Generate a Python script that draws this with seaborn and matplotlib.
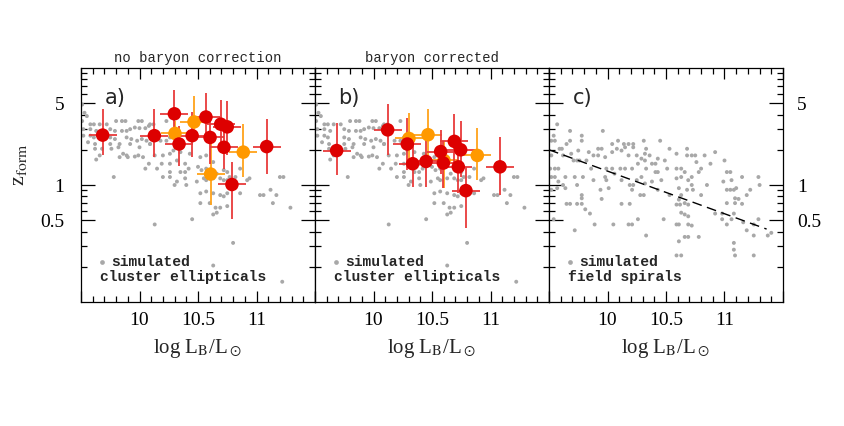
import numpy as np
import pandas as pd
import matplotlib
matplotlib.use("Agg")
import matplotlib.pyplot as plt
import seaborn as sns
from matplotlib.ticker import FixedLocator, NullFormatter, FixedFormatter, MultipleLocator

# ---------------- data ----------------
# simulated cluster ellipticals (panels a, b)
ell_x = [9.51, 9.53, 9.55, 9.51, 9.58, 9.61, 9.66, 9.72, 9.80, 9.85, 9.88, 9.99, 10.02, 10.09, 10.12, 10.23,
         9.52, 9.58, 9.63, 9.75, 9.79, 9.85, 9.89, 9.92, 9.96, 10.00, 10.05, 10.08,
         9.52, 9.58, 9.61, 9.75, 9.79, 9.89, 9.93, 9.98, 10.02, 10.06, 10.09, 10.18, 10.23,
         9.56, 9.62, 9.75, 9.83, 9.92, 10.00, 10.09, 10.26, 10.29,
         9.62, 9.68, 9.76, 9.82, 9.86, 9.89, 9.96, 10.03, 10.13, 10.20, 10.26, 10.35, 10.43,
         9.63, 9.66, 9.83, 9.90, 9.99, 10.08, 10.19, 10.26, 10.32, 10.39, 10.42, 10.52, 10.57, 10.63,
         9.78, 10.05, 10.15, 10.26, 10.35, 10.39, 10.50, 10.53, 10.57, 10.66, 10.72, 10.75, 10.86,
         10.20, 10.26, 10.30, 10.32, 10.39, 10.40, 10.49, 10.55, 10.57, 10.63, 10.69, 10.72, 10.75, 10.77, 10.82, 10.92, 10.94,
         10.52, 10.57, 10.63, 10.69, 10.72, 10.75, 10.86, 11.03, 11.06, 11.12, 11.17, 11.20, 11.23,
         10.52, 10.60, 10.65, 10.66, 10.63, 10.69, 10.75, 11.14,
         10.45, 10.13, 11.29, 10.80, 10.63, 11.22]
ell_z = [4.87, 4.14, 3.88, 3.52, 3.30, 3.30, 3.30, 3.30, 3.52, 3.52, 3.52, 3.52, 3.52, 3.30, 3.30, 3.52,
         3.00, 3.00, 2.90, 3.00, 2.90, 2.90, 2.90, 3.00, 3.10, 3.06, 3.06, 3.20,
         2.64, 2.64, 2.55, 2.55, 2.47, 2.55, 2.47, 2.39, 2.47, 2.39, 2.24, 2.39, 2.39,
         2.32, 2.24, 2.24, 2.24, 2.24, 2.10, 2.24, 2.55, 1.97,
         2.04, 2.04, 2.04, 2.10, 1.85, 1.79, 1.75, 1.73, 1.79, 1.79, 1.85, 1.91, 1.85,
         1.65, 1.79, 1.73, 1.73, 1.79, 1.52, 1.52, 1.52, 1.62, 1.52, 1.38, 1.73, 1.79, 1.57,
         1.17, 1.38, 1.38, 1.29, 1.29, 1.29, 1.43, 1.34, 1.38, 1.25, 1.34, 1.29, 1.38,
         1.17, 1.17, 1.00, 1.07, 1.14, 1.00, 1.07, 1.14, 1.10, 1.14, 1.14, 1.10, 1.10, 1.17, 1.17, 1.10, 1.14,
         0.85, 0.88, 0.85, 0.82, 0.80, 0.85, 0.85, 0.82, 0.82, 0.91, 0.82, 1.17, 1.17,
         0.70, 0.70, 0.64, 0.58, 0.56, 0.64, 0.66, 0.70,
         0.51, 0.46, 0.64, 0.32, 0.205, 0.149]

# simulated field spirals (panel c)
sp_x = [9.57, 9.54, 9.52, 9.55,
        9.59, 9.61, 9.65, 9.68, 9.68, 9.78, 9.78, 9.96, 9.92, 9.95, 10.04, 10.09, 10.14, 10.18, 10.22, 10.15, 10.22, 10.31, 10.45, 10.33, 10.53, 10.68,
        9.52, 9.62, 9.69, 9.75, 9.84, 9.88, 9.92, 9.98, 10.04, 10.08, 10.12, 10.18, 10.25, 10.29, 10.32, 10.36, 10.32, 10.38, 10.41, 10.43, 10.49, 10.59, 10.68, 10.72, 10.75, 10.83, 10.92, 10.88,
        9.51, 9.55, 9.58, 9.71, 9.74, 9.76, 9.82, 9.86, 9.99, 10.04, 10.11, 10.15, 10.21, 10.26, 10.33, 10.41, 10.43, 10.51, 10.59, 10.63, 10.66, 10.76, 10.78, 10.80, 11.00, 11.02, 11.05,
        9.52, 9.55, 9.58, 9.64, 9.72, 9.79, 9.88, 9.98, 9.99, 10.06, 10.12, 10.19, 10.22, 10.25, 10.29, 10.32, 10.38, 10.46, 10.59, 10.63, 10.69, 10.72, 10.72, 10.85, 10.99, 11.06, 11.15, 11.29,
        9.52, 9.57, 9.62, 9.64, 9.74, 9.78, 9.94, 10.01, 10.21, 10.28, 10.31, 10.43, 10.53, 10.61, 10.63, 10.68, 10.73, 10.80, 11.02, 11.05, 11.08, 11.10, 11.19, 11.22, 11.30,
        9.78, 9.95, 10.61, 10.62, 10.66, 11.09, 11.12,
        9.65, 9.68, 9.74, 9.78, 10.12, 10.19, 10.59, 10.69, 11.02, 11.09, 11.15,
        9.85, 9.81, 10.63, 10.66, 10.69, 10.92, 10.98, 11.08, 11.06, 10.98, 10.48,
        9.54, 9.89, 10.05, 10.18, 10.21, 10.26, 10.59, 10.61, 10.69, 10.72, 11.02, 11.16, 11.25, 11.29,
        9.72, 10.33, 10.66, 10.69, 10.78, 11.19, 11.25, 11.37, 11.40,
        10.61, 11.08, 11.08,
        10.59, 10.63, 11.09, 11.25]
sp_z = [3.30, 2.64, 2.39, 2.39,
        2.04, 2.04, 2.24, 2.39, 2.90, 2.64, 2.39, 2.90, 2.04, 2.04, 2.24, 2.39, 2.24, 2.24, 2.24, 2.10, 2.10, 2.39, 2.39, 2.04, 2.04, 2.04,
        1.79, 1.79, 1.85, 1.97, 1.91, 1.79, 1.79, 1.73, 1.91, 2.04, 1.97, 1.79, 1.79, 1.68, 1.85, 1.79, 1.62, 1.52, 1.52, 1.68, 1.62, 1.85, 1.79, 1.79, 1.79, 1.79, 1.91, 1.52,
        1.38, 1.38, 1.38, 1.62, 1.62, 1.62, 1.62, 1.38, 1.38, 1.38, 1.38, 1.38, 1.38, 1.52, 1.38, 1.29, 1.29, 1.38, 1.38, 1.38, 1.29, 1.57, 1.29, 1.38, 1.62, 1.29, 1.29,
        1.17, 1.17, 1.07, 1.17, 1.17, 1.17, 1.10, 1.17, 1.10, 1.25, 1.10, 1.00, 1.00, 1.10, 1.17, 1.03, 1.07, 1.10, 1.14, 1.17, 1.10, 1.17, 1.00, 1.00, 1.07, 1.10, 1.17, 1.17,
        0.91, 0.94, 1.00, 0.94, 1.00, 0.82, 0.91, 0.94, 0.91, 0.82, 0.82, 0.91, 0.82, 0.94, 0.82, 0.91, 0.91, 0.82, 0.91, 0.91, 0.91, 0.94, 0.82, 0.91, 1.00,
        0.77, 0.76, 0.75, 0.68, 0.70, 0.77, 0.76,
        0.69, 0.69, 0.69, 0.69, 0.69, 0.69, 0.68, 0.68, 0.70, 0.70, 0.69,
        0.57, 0.62, 0.58, 0.56, 0.54, 0.57, 0.57, 0.57, 0.51, 0.51, 0.51,
        0.51, 0.46, 0.46, 0.46, 0.46, 0.51, 0.46, 0.46, 0.46, 0.45, 0.46, 0.48, 0.46, 0.51,
        0.41, 0.37, 0.36, 0.36, 0.36, 0.41, 0.37, 0.37, 0.39,
        0.33, 0.32, 0.28,
        0.25, 0.25, 0.25, 0.25]

# dashed relation in panel c
rel_x = [9.50, 11.36]
rel_z = [2.00, 0.42]

# observed galaxies, panel a (no baryon correction)
red_a_x  = [9.685, 10.127, 10.298, 10.338, 10.450, 10.568, 10.603, 10.694, 10.750, 10.722, 10.790, 11.087]
red_a_z  = [2.67, 2.64, 4.06, 2.24, 2.64, 3.81, 2.55, 3.31, 3.14, 2.10, 1.01, 2.13]
red_a_zlo = [1.79, 1.75, 2.55, 1.44, 1.73, 2.39, 1.50, 2.10, 1.79, 1.38, 0.51, 1.25]
red_a_zhi = [4.42, 4.42, 6.50, 3.20, 4.20, 6.10, 4.01, 5.37, 5.20, 3.30, 1.57, 3.64]
red_a_xerr = [0.12, 0.12, 0.12, 0.12, 0.12, 0.12, 0.12, 0.12, 0.12, 0.12, 0.12, 0.12]

orange_a_x  = [10.303, 10.466, 10.608, 10.887]
orange_a_z  = [2.76, 3.46, 1.24, 1.91]
orange_a_zlo = [2.04, 2.39, 0.68, 1.18]
orange_a_zhi = [3.52, 5.72, 2.24, 3.31]
orange_a_xerr = [0.12, 0.12, 0.12, 0.12]

# observed galaxies, panel b (baryon corrected)
red_b_x  = [9.685, 10.121, 10.289, 10.335, 10.449, 10.574, 10.597, 10.691, 10.745, 10.725, 10.790, 11.081]
red_b_z  = [1.97, 2.96, 2.24, 1.52, 1.59, 1.93, 1.54, 2.36, 2.00, 1.43, 0.895, 1.43]
red_b_zlo = [1.21, 1.79, 1.34, 0.97, 0.97, 1.25, 0.94, 1.45, 1.17, 0.85, 0.43, 0.82]
red_b_zhi = [3.41, 4.93, 3.77, 2.39, 2.55, 2.93, 2.39, 4.01, 3.52, 2.39, 1.43, 2.55]
red_b_xerr = [0.12, 0.12, 0.12, 0.12, 0.12, 0.12, 0.12, 0.12, 0.12, 0.12, 0.12, 0.12]

orange_b_x  = [10.303, 10.466, 10.603, 10.887]
orange_b_z  = [2.50, 2.69, 1.62, 1.79]
orange_b_zlo = [1.62, 1.57, 0.94, 1.10]
orange_b_zhi = [4.14, 4.48, 2.39, 3.10]
orange_b_xerr = [0.12, 0.12, 0.12, 0.12]

# ---------------- style ----------------
sns.set_style("ticks")
plt.rcParams['font.family'] = ['Liberation Serif', 'DejaVu Serif']
plt.rcParams['mathtext.fontset'] = 'stix'
plt.rcParams['axes.linewidth'] = 0.9

GRAY = '#a8a8a8'
RED = '#dd0000'
RED_E = '#e83a3a'
ORA = '#ff9900'
ORA_E = '#ffa31a'

fig = plt.figure(figsize=(8.45, 4.26), dpi=100)
W, H = 845.0, 426.0
lefts = [81, 315, 549]
pw = 234
top_px, bot_px = 68, 302
axes = []
for l in lefts:
    ax = fig.add_axes([l / W, 1 - bot_px / H, pw / W, (bot_px - top_px) / H])
    axes.append(ax)

ell_df = pd.DataFrame({'x': ell_x, 'z': ell_z})
sp_df = pd.DataFrame({'x': sp_x, 'z': sp_z})
rel_df = pd.DataFrame({'x': rel_x, 'z': rel_z})


def draw_obs(ax, xs, zs, zlo, zhi, xerr, mcol, ecol):
    xs = np.array(xs); zs = np.array(zs)
    yerr = np.vstack([zs - np.array(zlo), np.array(zhi) - zs])
    ax.errorbar(xs, zs, xerr=xerr, yerr=yerr, fmt='none', ecolor=ecol, elinewidth=1.3, capsize=0, zorder=3)
    sns.scatterplot(x=xs, y=zs, ax=ax, color=mcol, s=95, edgecolor='none', zorder=4, legend=False)


for i, ax in enumerate(axes):
    df = sp_df if i == 2 else ell_df
    sns.scatterplot(data=df, x='x', y='z', ax=ax, color=GRAY, s=8, edgecolor='none', legend=False, zorder=2)

draw_obs(axes[0], orange_a_x, orange_a_z, orange_a_zlo, orange_a_zhi, orange_a_xerr, ORA, ORA_E)
draw_obs(axes[0], red_a_x, red_a_z, red_a_zlo, red_a_zhi, red_a_xerr, RED, RED_E)
draw_obs(axes[1], orange_b_x, orange_b_z, orange_b_zlo, orange_b_zhi, orange_b_xerr, ORA, ORA_E)
draw_obs(axes[1], red_b_x, red_b_z, red_b_zlo, red_b_zhi, red_b_xerr, RED, RED_E)

sns.lineplot(data=rel_df, x='x', y='z', ax=axes[2], color='black', lw=1.0, zorder=3)
axes[2].lines[-1].set_dashes([7, 4])

panel_tags = ['a)', 'b)', 'c)']
legend_lines = ['cluster ellipticals', 'cluster ellipticals', 'field spirals']
for i, ax in enumerate(axes):
    ax.set_yscale('log')
    ax.set_xlim(9.5, 11.5)
    ax.set_ylim(0.1, 10)
    ax.xaxis.set_major_locator(FixedLocator([9.5, 10, 10.5, 11, 11.5]))
    ax.xaxis.set_major_formatter(FixedFormatter(['', '10', '10.5', '11', '']))
    ax.xaxis.set_minor_locator(MultipleLocator(0.1))
    ax.yaxis.set_major_locator(FixedLocator([0.5, 1, 5]))
    ax.yaxis.set_major_formatter(FixedFormatter(['0.5', '1', '5']))
    ax.yaxis.set_minor_locator(FixedLocator([0.2, 0.3, 0.4, 0.6, 0.7, 0.8, 0.9, 2, 3, 4, 6, 7, 8, 9]))
    ax.yaxis.set_minor_formatter(NullFormatter())
    ax.tick_params(which='both', direction='in', top=True, right=True, left=True, bottom=True,
                   width=0.9, colors='black', labelsize=14)
    ax.tick_params(which='major', length=8, pad=7)
    ax.tick_params(which='minor', length=4)
    ax.tick_params(axis='y', which='major', length=10)
    ax.set_xlabel(r'log L$_\mathrm{B}$/L$_\odot$', fontsize=15, labelpad=6)
    ax.set_ylabel('')
    if i == 0:
        ax.tick_params(axis='y', labelleft=True, labelright=False, pad=12)
    elif i == 1:
        ax.tick_params(axis='y', labelleft=False, labelright=False)
    else:
        ax.tick_params(axis='y', labelleft=False, labelright=True, pad=10)
    for s in ax.spines.values():
        s.set_visible(True)
        s.set_color('black')
    ax.text(0.10, 0.872, panel_tags[i], transform=ax.transAxes, fontsize=15,
            family=['DejaVu Sans'], va='center', ha='left')
    ax.plot([0.09], [0.171], 'o', transform=ax.transAxes, color=GRAY, ms=3.4, mec='none')
    ax.text(0.128, 0.171, 'simulated', transform=ax.transAxes, fontsize=10.5,
            family=['Liberation Mono'], weight='bold', va='center', ha='left')
    ax.text(0.082, 0.107, legend_lines[i], transform=ax.transAxes, fontsize=10.5,
            family=['Liberation Mono'], weight='bold', va='center', ha='left')

axes[0].set_title('no baryon correction', family=['Liberation Mono'], fontsize=10, pad=4)
axes[1].set_title('baryon corrected', family=['Liberation Mono'], fontsize=10, pad=4)

fig.text(20 / W, 1 - 165 / H, r'z$_\mathrm{form}$', rotation=90, fontsize=16, va='center', ha='center')

fig.savefig('out.png', dpi=100)
